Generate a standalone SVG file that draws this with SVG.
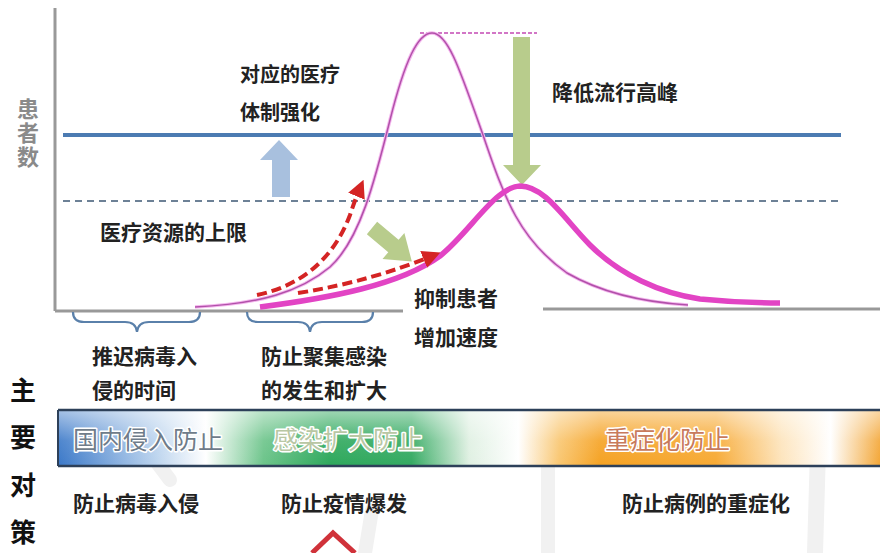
<svg xmlns="http://www.w3.org/2000/svg" width="880" height="553" viewBox="0 0 880 553">
<style>
.t{font-family:"Noto Sans CJK SC","Noto Sans",sans-serif;font-weight:bold;fill:#222}
.yl{font-family:"Noto Sans CJK SC","Noto Sans",sans-serif;font-weight:bold;fill:#8a8a8a;font-size:22px}
.side{font-family:"Noto Sans CJK SC","Noto Sans",sans-serif;font-weight:bold;fill:#111;font-size:26px}
.band{font-family:"Noto Sans CJK SC","Noto Sans",sans-serif;font-size:25px;stroke:#fff;stroke-width:3;paint-order:stroke;stroke-linejoin:round}
.brace{fill:none;stroke:#5a80aa;stroke-width:2.2}
.red{fill:none;stroke:#d42424;stroke-width:4;stroke-dasharray:10 5}
.wm{fill:none;stroke:#f1f1f1;stroke-linecap:round}
</style>
<defs>
<marker id="rh" viewBox="0 0 10 10" refX="5" refY="5" markerWidth="4.5" markerHeight="4.5" orient="auto" markerUnits="strokeWidth">
<path d="M0,0 L10,5 L0,10 Z" fill="#d42424"/>
</marker>
<linearGradient id="bandg" gradientUnits="userSpaceOnUse" x1="58" y1="0" x2="880" y2="0">
<stop offset="0" stop-color="#3a78c8"/>
<stop offset="0.12" stop-color="#bcd4ee"/>
<stop offset="0.18" stop-color="#ffffff"/>
<stop offset="0.25" stop-color="#6cc48a"/>
<stop offset="0.33" stop-color="#2ea85c"/>
<stop offset="0.43" stop-color="#34aa62"/>
<stop offset="0.50" stop-color="#dff0e2"/>
<stop offset="0.56" stop-color="#ffffff"/>
<stop offset="0.61" stop-color="#f9c670"/>
<stop offset="0.66" stop-color="#f5a223"/>
<stop offset="0.80" stop-color="#f7aa35"/>
<stop offset="0.88" stop-color="#fde4bc"/>
<stop offset="0.94" stop-color="#ffffff"/>
<stop offset="1" stop-color="#f3a636"/>
</linearGradient>
<linearGradient id="gloss" x1="0" y1="0" x2="0" y2="1">
<stop offset="0" stop-color="#fff" stop-opacity="0.55"/>
<stop offset="0.55" stop-color="#fff" stop-opacity="0.1"/>
<stop offset="1" stop-color="#fff" stop-opacity="0"/>
</linearGradient>
</defs>

<g id="watermark">
<path class="wm" d="M365,553 L372,510" stroke-width="14"/>
<path class="wm" d="M548,553 L548,455" stroke-width="14"/>
<path class="wm" d="M815,553 L818,450" stroke-width="16"/>
<path class="wm" d="M140,440 L170,480" stroke-width="14"/>
</g>

<g id="axes">
<line x1="55" y1="8" x2="55" y2="311" stroke="#999" stroke-width="3"/>
<line x1="55" y1="311" x2="403" y2="311" stroke="#999" stroke-width="3"/>
<line x1="543" y1="309" x2="880" y2="309" stroke="#999" stroke-width="3"/>
</g>

<g id="y-label">
<text class="yl" x="28" y="98" writing-mode="vertical-rl" letter-spacing="2">患者数</text>
</g>

<g id="capacity-lines">
<line x1="63" y1="135" x2="841" y2="135" stroke="#4c7bb2" stroke-width="4"/>
<line x1="63" y1="201" x2="841" y2="201" stroke="#6d8196" stroke-width="2" stroke-dasharray="7 5"/>
<line x1="420" y1="33" x2="537" y2="33" stroke="#d276c6" stroke-width="2" stroke-dasharray="4 2"/>
</g>

<g id="up-arrow">
<polygon points="272,197 290,197 290,160 298,160 279,140 260,160 272,160" fill="#a8c0de"/>
</g>

<g id="down-arrow">
<polygon points="513,37 530,37 530,165 541,165 522,185 503,165 513,165" fill="#b8cc8c"/>
</g>

<g id="diag-arrow">
<polygon points="0,-8 28,-8 28,-17 52,0 28,17 28,8 0,8" fill="#b8cc8c" transform="translate(372,228) rotate(40)"/>
</g>

<g id="curves">
<path d="M195,307 C260,304 300,292 330,267 C360,240 375,180 390,120 C405,60 418,33 432,33 C448,33 460,70 483,135 C505,200 520,240 567,273 C600,292 640,302 688,305" fill="none" stroke="#f4b8ee" stroke-width="3.5"/>
<path d="M195,307 C260,304 300,292 330,267 C360,240 375,180 390,120 C405,60 418,33 432,33 C448,33 460,70 483,135 C505,200 520,240 567,273 C600,292 640,302 688,305" fill="none" stroke="#b250aa" stroke-width="1.5"/>
<path d="M260,307 C330,298 400,285 440,256 C470,232 495,187 520,186 C545,186 565,220 590,245 C620,275 660,293 700,299 C730,302 760,303 780,303" fill="none" stroke="#e244c4" stroke-width="5.5"/>
</g>

<g id="red-arrows">
<path class="red" d="M257,295 C305,285 335,255 350,215 C354,203 357,195 360,188" marker-end="url(#rh)"/>
<path class="red" d="M298,293 C350,285 395,271 432,256" marker-end="url(#rh)"/>
</g>

<g id="labels-top">
<text class="t" x="240" y="82" font-size="20">对应的医疗</text>
<text class="t" x="240" y="120" font-size="20">体制强化</text>
<text class="t" x="100" y="240" font-size="21">医疗资源的上限</text>
<text class="t" x="552" y="100" font-size="21">降低流行高峰</text>
<text class="t" x="414" y="306" font-size="21">抑制患者</text>
<text class="t" x="414" y="345" font-size="21">增加速度</text>
</g>

<g id="braces">
<path class="brace" d="M73,312 Q73,322 84,322 L125,322 Q136,322 137,332 Q138,322 149,322 L189,322 Q200,322 200,312"/>
<path class="brace" d="M247,312 Q247,322 258,322 L298,322 Q309,322 310,332 Q311,322 322,322 L362,322 Q373,322 373,312"/>
</g>

<g id="brace-labels">
<text class="t" x="92" y="364" font-size="21">推迟病毒入</text>
<text class="t" x="92" y="398" font-size="21">侵的时间</text>
<text class="t" x="261" y="364" font-size="21">防止聚集感染</text>
<text class="t" x="261" y="398" font-size="21">的发生和扩大</text>
</g>

<g id="side-title">
<text class="side" x="10" y="400">主</text>
<text class="side" x="10" y="447">要</text>
<text class="side" x="10" y="495">对</text>
<text class="side" x="10" y="542">策</text>
</g>

<g id="band">
<rect x="58" y="410" width="830" height="56" fill="url(#bandg)"/>
<rect x="58" y="410" width="830" height="56" fill="url(#gloss)"/>
<line x1="58" y1="410" x2="880" y2="410" stroke="#2d4059" stroke-width="2.5"/>
<line x1="58" y1="466" x2="880" y2="466" stroke="#2d4059" stroke-width="2.5"/>
<line x1="58" y1="410" x2="58" y2="466" stroke="#2d4059" stroke-width="2"/>
<text class="band" x="73" y="449" fill="#6f7c8a">国内侵入防止</text>
<text class="band" x="273" y="449" fill="#b9c7a4">感染扩大防止</text>
<text class="band" x="605" y="449" fill="#c87a5c">重症化防止</text>
</g>

<g id="measures">
<text class="t" x="73" y="511" font-size="21" fill="#333">防止病毒入侵</text>
<text class="t" x="281" y="511" font-size="21" fill="#333">防止疫情爆发</text>
<text class="t" x="622" y="511" font-size="21" fill="#333">防止病例的重症化</text>
</g>

<g id="chevron">
<polyline points="312,553 333,533 355,553" fill="none" stroke="#d0323a" stroke-width="5"/>
</g>
</svg>
